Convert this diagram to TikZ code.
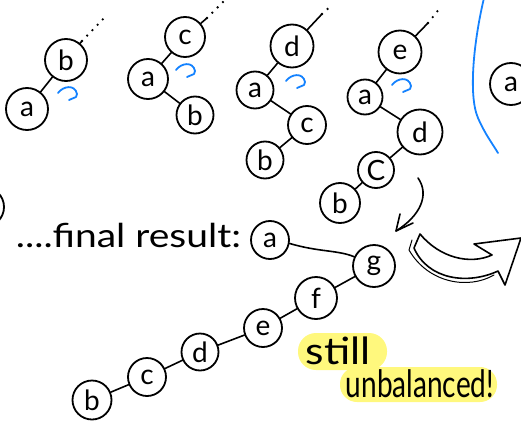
\documentclass[tikz,border=0pt]{standalone}
\usepackage{fontspec}
\setmainfont{Lato}
\usetikzlibrary{arrows.meta}
\definecolor{penblue}{RGB}{20,130,255}
\definecolor{hl}{RGB}{255,248,125}
\begin{document}
\begin{tikzpicture}[x=1pt,y=-1pt, line width=1.8pt, line cap=round, line join=round,
  nd/.style={circle, draw, line width=1.8pt, minimum size=40pt, inner sep=0pt, font=\fontsize{28}{28}\selectfont},
  edge/.style={draw, line width=1.6pt},
  dots/.style={line width=2.6pt, dash pattern=on 0pt off 7.5pt, dash phase=-7.5pt},
  rotarrow/.pic={\draw[penblue, line width=1.8pt] (0,0) .. controls (5,-7) and (17,-9) .. (19,1) -- (18,4) -- (11,7);},
  handtext/.style={font=\fontsize{30}{30}\selectfont, inner sep=0pt}]
\clip (0,0) rectangle (521,425);
\useasboundingbox (0,0) rectangle (521,425);

% ---------- tree 1
\node[nd, minimum size=42pt] (t1b) at (66,60) {b};
\node[nd, minimum size=42pt] (t1a) at (27,109) {a};
\draw[edge] (t1b) -- (t1a);
\coordinate (t1e) at (82,41);
\coordinate (t1d) at (106,16);
\draw[edge] (t1b) -- (t1e);
\draw[dots] (t1e) -- (t1d);
\pic at (58,93) {rotarrow};

% ---------- tree 2
\node[nd] (t2c) at (185,37) {c};
\node[nd] (t2a) at (148,79) {a};
\node[nd, minimum size=37pt] (t2b) at (195,115) {b};
\draw[edge] (t2c) -- (t2a);
\draw[edge] (t2a) -- (t2b);
\coordinate (t2e) at (207,18);
\coordinate (t2d) at (225,0);
\draw[edge] (t2c) -- (t2e);
\draw[dots] (t2e) -- (t2d);
\pic at (176,70) {rotarrow};

% ---------- tree 3
\node[nd, minimum size=43pt] (t3d) at (292,46) {d};
\node[nd, minimum size=37pt] (t3a) at (255,90) {a};
\node[nd, minimum size=38pt] (t3c) at (307,125) {c};
\node[nd, minimum size=37pt] (t3b) at (265,160) {b};
\draw[edge] (t3d) -- (t3a);
\draw[edge] (t3a) -- (t3c);
\draw[edge] (t3c) -- (t3b);
\coordinate (t3e) at (322,14);
\coordinate (t3f) at (333,4);
\draw[edge] (t3d) -- (t3e);
\draw[dots] (t3e) -- (t3f);
\pic at (286,81) {rotarrow};

% ---------- tree 4
\node[nd, minimum size=43pt] (t4e) at (400,52) {e};
\node[nd, minimum size=35pt] (t4a) at (365,97) {a};
\node[nd, minimum size=45pt] (t4d) at (420,132) {d};
\node[nd, minimum size=36pt] (t4c) at (376,170) {C};
\node[nd] (t4b) at (340,203) {b};
\draw[edge] (t4e) -- (t4a);
\draw[edge] (t4a) -- (t4d);
\draw[edge] (t4d) -- (t4c);
\draw[edge] (t4c) -- (t4b);
\coordinate (t4f) at (428,23);
\coordinate (t4g) at (440,8);
\draw[edge] (t4e) -- (t4f);
\draw[dots] (t4f) -- (t4g);
\pic at (392,85) {rotarrow};

% ---------- blue separator and partial node
\draw[penblue, line width=1.8pt] (484,-2) .. controls (474,40) and (468,95) .. (478,118) .. controls (485,134) and (492,143) .. (498,153);
\node[nd, minimum size=42pt] (ra) at (511,84) {a};

% partial node at left edge
\node[nd] (lp) at (-16,207) {};

% ---------- curved arrow
\coordinate (ca1) at (418,178);
\coordinate (ca2) at (396,231);
\coordinate (ca3) at (400,214);
\coordinate (ca4) at (413,223);
\draw[line width=1.6pt] (ca1) .. controls (430,195) and (420,216) .. (ca2);
\draw[line width=1.6pt] (ca3) -- (ca2) -- (ca4);

% ---------- big hollow arrow
\draw[line width=1pt] (412,240) -- (409,250) .. controls (428,283) and (468,290) .. (494,275);
\draw[fill=white, line width=1.6pt] (420,234) .. controls (440,258) and (470,265) .. (492,255)
  -- (474,244) -- (521,238) -- (505,285) -- (498,271)
  .. controls (468,285) and (428,280) .. (414,248) -- cycle;

% ---------- final result
\node[handtext, anchor=base west] (fr) at (15,247) {\scalebox{1.3}[1.1]{....final result:}};
\node[nd, minimum size=38pt] (fa) at (270,240) {a};
\node[nd, minimum size=42pt] (fg) at (374,266) {g};
\node[nd, minimum size=42pt] (ff) at (316,298) {f};
\node[nd, minimum size=38pt] (fe) at (263,328) {e};
\node[nd, minimum size=37pt] (fd) at (200,352) {d};
\node[nd, minimum size=38pt] (fc) at (147,377) {c};
\node[nd, minimum size=39pt] (fb) at (92,400) {b};
\draw[edge] (fa.-10) .. controls (318,252) and (338,250) .. (fg.155);
\draw[edge] (fg) -- (ff);
\draw[edge] (ff) -- (fe);
\draw[edge] (fe) -- (fd);
\draw[edge] (fd) -- (fc);
\draw[edge] (fc) -- (fb);

% ---------- highlighted remark
\fill[hl, rounded corners=18pt] (298,333) rectangle (387,370);
\fill[hl, rounded corners=17pt] (340,367) rectangle (497,402);
\node[handtext, anchor=base west] (st) at (305,364) {\scalebox{1.42}[1.25]{still}};
\node[handtext, font=\fontsize{28}{28}\selectfont, anchor=base west] (ub) at (345,397) {\scalebox{1}[1.35]{unbalanced!}};
\end{tikzpicture}
\end{document}
